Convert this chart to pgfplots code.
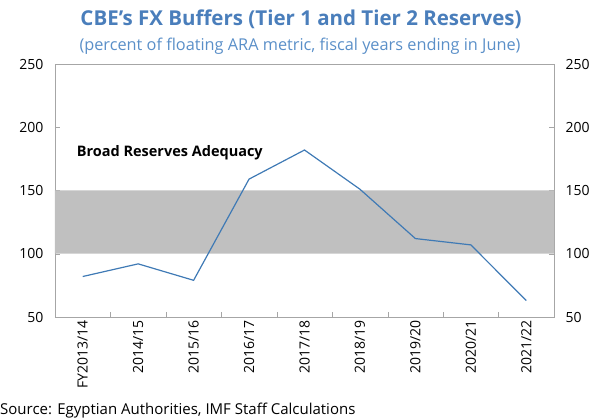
\documentclass[border=0pt]{standalone}
\usepackage{pgfplots}
\pgfplotsset{compat=1.18}
\usepackage{fontspec}
\setmainfont{Open Sans}
\definecolor{ttl}{HTML}{4A7EBB}
\definecolor{sub}{HTML}{5A8FC8}
\definecolor{ln}{HTML}{3F7AB5}
\definecolor{band}{HTML}{C0C0C0}
\definecolor{ax}{HTML}{A6A6A6}
\begin{document}
\begin{tikzpicture}[x=1pt,y=1pt]
\path (0,0) rectangle (598,420);
\node[font=\fontsize{20.5}{24}\selectfont\bfseries, text=ttl] at (301,401) {CBE's FX Buffers (Tier 1 and Tier 2 Reserves)};
\node[font=\fontsize{16.3}{19}\selectfont, text=sub] at (300,374) {(percent of floating ARA metric, fiscal years ending in June)};
\node[font=\fontsize{15}{17}\selectfont, anchor=south west, inner sep=0pt] at (0,2) {Source: Egyptian Authorities, IMF Staff Calculations};
\begin{axis}[at={(55pt,103pt)}, anchor=south west, width=499pt, height=253pt, scale only axis,
  xmin=-0.5, xmax=8.5, ymin=50, ymax=250,
  ytick={50,100,...,250},
  xtick={0,...,8},
  xticklabels={FY2013/14,2014/15,2015/16,2016/17,2017/18,2018/19,2019/20,2020/21,2021/22},
  minor xtick={0.5,1.5,...,7.5},
  major x tick style={draw=none},
  xtick pos=bottom,
  tick align=inside,
  major tick length=5pt, minor tick length=5pt,
  axis line style={ax}, tick style={ax},
  x tick label style={rotate=90, anchor=east, font=\fontsize{14}{16}\selectfont},
  y tick label style={font=\fontsize{14}{16}\selectfont},
  yticklabel style={xshift=-8pt},
  /pgf/number format/assume math mode=true,
  clip=false]
\addplot[fill=band, draw=none] coordinates {(-0.5,100) (8.5,100) (8.5,150) (-0.5,150) (-0.5,100)};
\addplot[ln, line width=1.2pt, mark=none] coordinates {
(0,82) (1,92) (2,79) (3,159) (4,182) (5,151) (6,112) (7,107) (8,63)};
\node[anchor=west, font=\fontsize{14.5}{17}\selectfont\bfseries] at (axis cs:-0.17,180) {Broad Reserves Adequacy};
\end{axis}
\begin{axis}[at={(55pt,103pt)}, anchor=south west, width=499pt, height=253pt, scale only axis,
  xmin=-0.5, xmax=8.5, ymin=50, ymax=250,
  ytick={50,100,...,250},
  axis x line=none, axis y line*=right,
  y axis line style={draw=none}, major y tick style={draw=none},
  y tick label style={font=\fontsize{14}{16}\selectfont},
  yticklabel style={xshift=8pt},
  /pgf/number format/assume math mode=true]
\end{axis}
\end{tikzpicture}
\end{document}
